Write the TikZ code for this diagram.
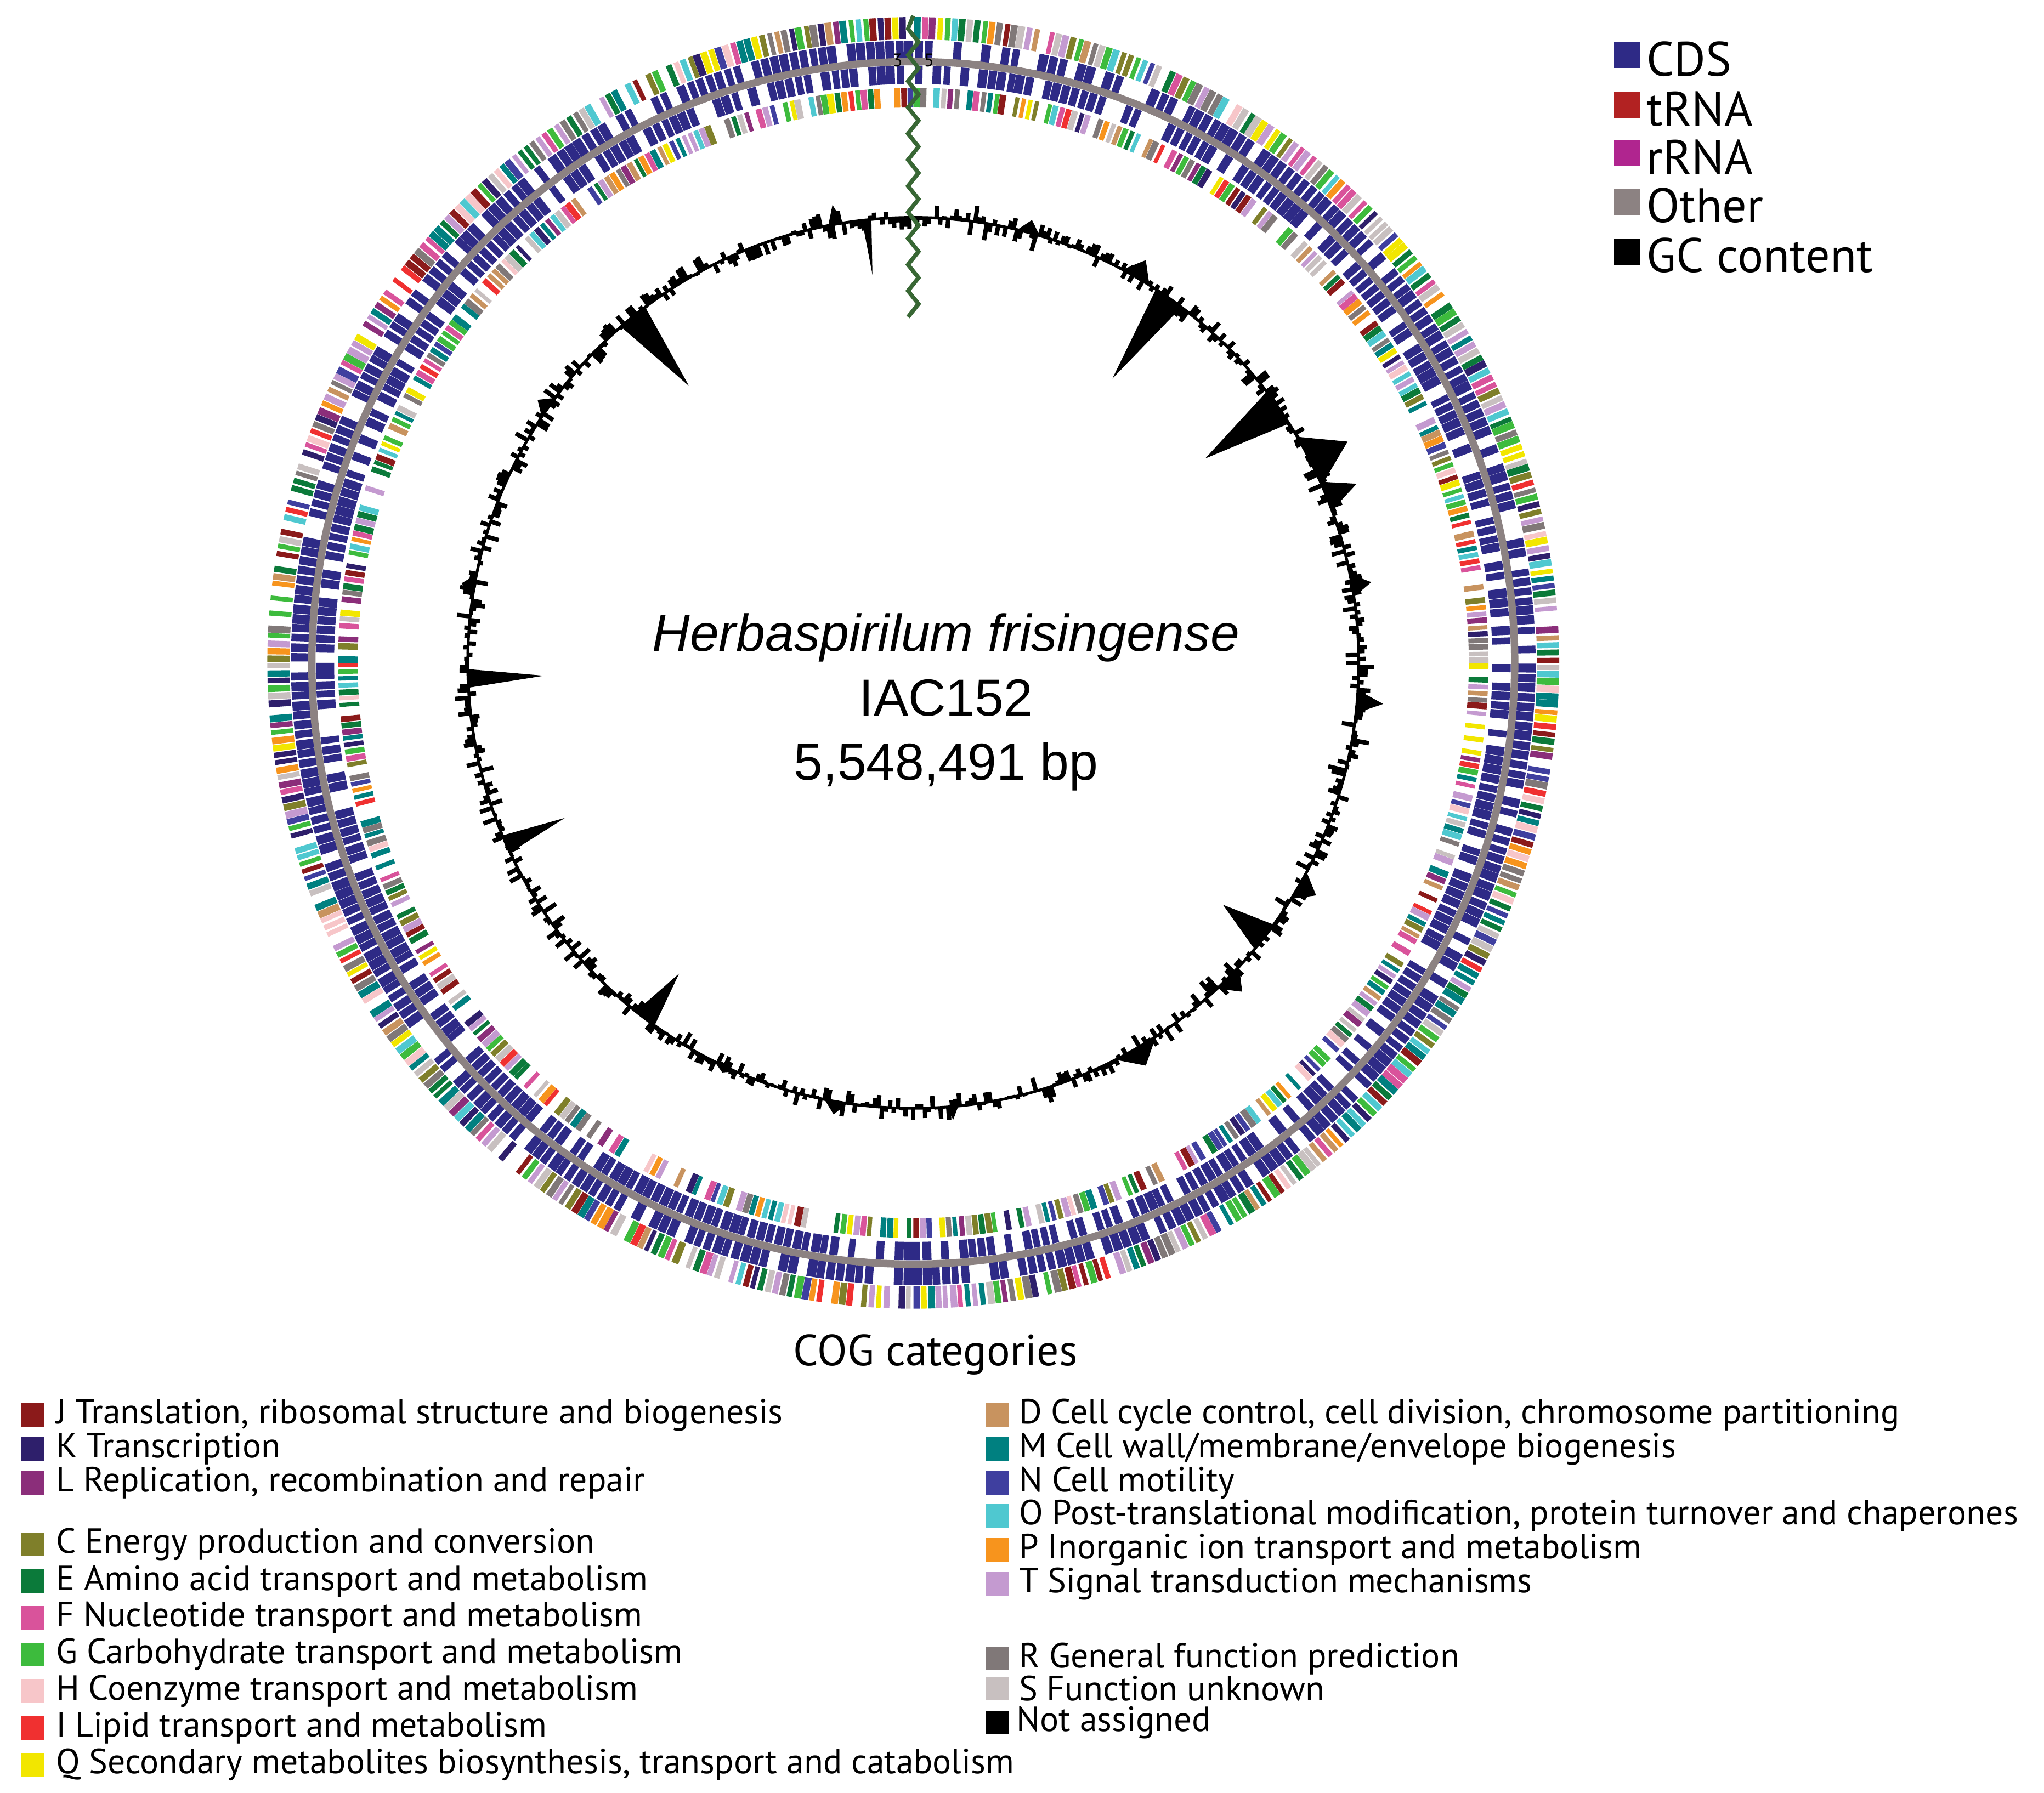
\documentclass[tikz,border=0pt]{standalone}
\usepackage{fontspec}
\setmainfont{PT Sans}
\newfontfamily\arialf{Liberation Sans}
\definecolor{cJ}{HTML}{8B1A1A}\definecolor{cK}{HTML}{2E1F6B}\definecolor{cL}{HTML}{8B2E7A}
\definecolor{cC}{HTML}{7F7F2A}\definecolor{cE}{HTML}{0B7A3A}\definecolor{cF}{HTML}{D9539B}
\definecolor{cG}{HTML}{3DBB3D}\definecolor{cH}{HTML}{F7C6C9}\definecolor{cI}{HTML}{F03030}
\definecolor{cQ}{HTML}{F2E600}\definecolor{cD}{HTML}{C8935F}\definecolor{cM}{HTML}{008080}
\definecolor{cN}{HTML}{3F3F9F}\definecolor{cO}{HTML}{4FC8D0}\definecolor{cP}{HTML}{F7941D}
\definecolor{cT}{HTML}{C49AD0}\definecolor{cR}{HTML}{807878}\definecolor{cS}{HTML}{C8C0C0}
\definecolor{cNA}{HTML}{000000}
\definecolor{cCDS}{HTML}{2E2A86}\definecolor{ctRNA}{HTML}{B22222}\definecolor{crRNA}{HTML}{B0258F}
\definecolor{cOther}{HTML}{8C8282}
\pgfmathdeclarerandomlist{cogs}{{cJ}{cK}{cL}{cC}{cE}{cF}{cG}{cH}{cI}{cQ}{cD}{cM}{cN}{cO}{cP}{cT}{cR}{cS}{cS}{cR}{cT}{cG}{cE}{cM}}
\newcommand\ringseg[4]{\fill (#3:#1) arc[start angle=#3,end angle=#4,radius=#1] -- (#4:#2) arc[start angle=#4,end angle=#3,radius=#2] -- cycle;}
\tikzset{legsq/.style={minimum size=0.18cm,inner sep=0pt},
  legtxt/.style={anchor=west,inner sep=0pt,font=\fontsize{7.6pt}{8pt}\selectfont},
  toptxt/.style={anchor=west,inner sep=0pt,font=\fontsize{10.5pt}{11pt}\selectfont}}
\begin{document}
\begin{tikzpicture}
\useasboundingbox (0,0) rectangle (15.6,-13.685);
\pgfmathsetseed{152}
\begin{scope}[shift={(6.97,-5.06)}]
% outer COG ring
\foreach \i in {0,...,539}{
  \pgfmathrandomitem{\c}{cogs}
  \pgfmathsetmacro\a{\i*0.6667}\pgfmathsetmacro\b{\a+0.6667*(0.6+0.38*rnd)}
  \pgfmathsetmacro\q{rnd}
  \ifdim\q pt<0.93pt \color{\c}\ringseg{4.76}{4.93}{\a}{\b}\fi}
% forward CDS ring
\foreach \i in {0,...,399}{
  \pgfmathsetmacro\a{\i*0.9}\pgfmathsetmacro\b{\a+0.9*(0.7+0.28*rnd)}
  \pgfmathsetmacro\q{rnd}
  \ifdim\q pt<0.85pt \color{cCDS}\ringseg{4.615}{4.75}{\a}{\b}\fi}
\draw[cOther,line width=1.6pt] (0,0) circle[radius=4.59];
% reverse CDS ring
\foreach \i in {0,...,399}{
  \pgfmathsetmacro\a{\i*0.9}\pgfmathsetmacro\b{\a+0.9*(0.7+0.28*rnd)}
  \pgfmathsetmacro\q{rnd}
  \ifdim\q pt<0.8pt \color{cCDS}\ringseg{4.42}{4.56}{\a}{\b}\fi}
% reverse COG ring
\foreach \i in {0,...,539}{
  \pgfmathrandomitem{\c}{cogs}
  \pgfmathsetmacro\a{\i*0.6667}\pgfmathsetmacro\b{\a+0.6667*(0.6+0.38*rnd)}
  \pgfmathsetmacro\q{rnd}
  \ifdim\q pt<0.82pt \color{\c}\ringseg{4.24}{4.39}{\a}{\b}\fi}
% GC content
\foreach \i in {0,...,719}{
  \pgfmathsetmacro\a{\i*0.5}\pgfmathsetmacro\v{0.2*(rnd-0.5)+0.12*(rnd-0.5)*rnd*rnd}
  \draw[black,line width=0.95pt] (\a:3.4) -- (\a:3.4+\v);}
\foreach \ang/\r/\w in {129/2.72/2,55/2.65/2,35/2.72/2.5,182/2.82/1.2,204/2.91/1.2,-38/3.0/2,-127/2.97/1.5,96/2.98/0.6,60/3.55/2,27/3.72/3.5,22/3.65/2,-30/3.55/2,-60/3.55/3,-100/3.5/1.5,-115/3.45/1.5,145/3.5/1.5,170/3.5/1.5,-85/3.5/0.8,10/3.55/1.5,-5/3.6/1.5,-45/3.55/2,100/3.55/1,75/3.5/1.5}{
  \fill (\ang-\w:3.4) -- (\ang:\r) -- (\ang+\w:3.4) -- cycle;}
\draw[black,line width=0.6pt] (0,0) circle[radius=3.4];
% origin marker
\draw[cOther!50!black!80!green,line width=0.9pt] (0,4.94) \foreach \k in {1,...,23}{ -- ({0.04*(-1)^\k},{4.94-0.1*\k}) };
\node[font=\fontsize{4pt}{4pt}\selectfont] (t3) at (-0.12,4.6) {3};
\node[font=\fontsize{4pt}{4pt}\selectfont] (t5) at (0.12,4.6) {5};
\node[font=\arialf\fontsize{11.3pt}{14pt}\selectfont,align=center] (title) at (0.25,-0.3) {\textit{Herbaspirilum frisingense}\\[0pt]IAC152\\[0pt]5,548,491 bp};
\end{scope}
% top right legend
\foreach \n/\c/\y in {CDS/cCDS/0.45,tRNA/ctRNA/0.83,rRNA/crRNA/1.2,Other/cOther/1.57,GC content/black/1.95}{
  \node[legsq,fill=\c,minimum size=0.2cm] (s\c) at (12.42,-\y+0.03) {};
  \node[toptxt] (t\c) at (12.56,-\y) {\n};}
\node[font=\fontsize{9.5pt}{10pt}\selectfont] (cog) at (7.14,-10.34) {COG categories};
\foreach \l/\c/\y/\t in {J/cJ/10.8/{Translation, ribosomal structure and biogenesis},K/cK/11.06/{Transcription},L/cL/11.32/{Replication, recombination and repair},C/cC/11.79/{Energy production and conversion},E/cE/12.07/{Amino acid transport and metabolism},F/cF/12.35/{Nucleotide transport and metabolism},G/cG/12.63/{Carbohydrate transport and metabolism},H/cH/12.91/{Coenzyme transport and metabolism},I/cI/13.19/{Lipid transport and metabolism},Q/cQ/13.47/{Secondary metabolites biosynthesis, transport and catabolism}}{
  \node[legsq,fill=\c] (q\l) at (0.25,-\y) {};
  \node[legtxt] (x\l) at (0.42,-\y) {\l\ \t};}
\foreach \l/\c/\y/\t in {D/cD/10.8/{Cell cycle control, cell division, chromosome partitioning},M/cM/11.06/{Cell wall/membrane/envelope biogenesis},N/cN/11.32/{Cell motility},O/cO/11.57/{Post-translational modification, protein turnover and chaperones},P/cP/11.83/{Inorganic ion transport and metabolism},T/cT/12.09/{Signal transduction mechanisms},R/cR/12.66/{General function prediction},S/cS/12.89/{Function unknown}}{
  \node[legsq,fill=\c] (q\l) at (7.61,-\y) {};
  \node[legtxt] (x\l) at (7.77,-\y) {\l\ \t};}
\node[legsq,fill=black] (qNA) at (7.61,-13.15) {};
\node[legtxt] (xNA) at (7.75,-13.15) {Not assigned};
\end{tikzpicture}
\end{document}
